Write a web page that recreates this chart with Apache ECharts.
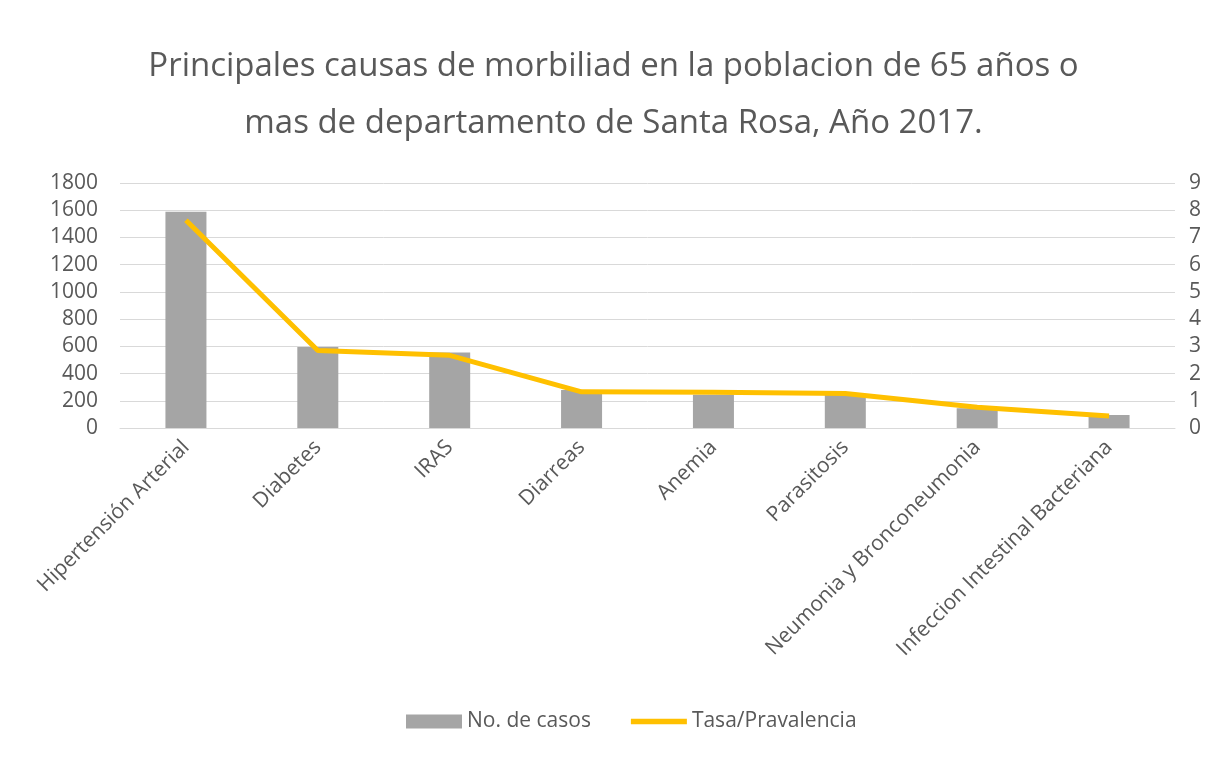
<!DOCTYPE html>
<html>
<head>
<meta charset="utf-8">
<script src="https://cdn.jsdelivr.net/npm/echarts@6/dist/echarts.min.js"></script>
<style>
html, body { margin: 0; padding: 0; background: #fff; }
#chart { width: 1227px; height: 763px; }
</style>
</head>
<body>
<div id="chart"></div>
<script>
// categories and values
var causas = ['Hipertensión Arterial', 'Diabetes', 'IRAS', 'Diarreas', 'Anemia',
              'Parasitosis', 'Neumonia y Bronconeumonia', 'Infeccion Intestinal Bacteriana'];
var casos = [1588, 595, 555, 280, 245, 242, 145, 95];
var tasa = [7.63, 2.85, 2.67, 1.33, 1.31, 1.27, 0.76, 0.44];

var gris = '#595959';
var fuente = 'Open Sans';
var myChart = echarts.init(document.getElementById('chart'));
var option = {
    textStyle: { fontFamily: fuente },
    title: {
        text: 'Principales causas de morbiliad en la poblacion de 65 años o\nmas de departamento de Santa Rosa, Año 2017.',
        left: 'center',
        top: 33,
        textStyle: { fontSize: 33, fontWeight: 'normal', color: gris, lineHeight: 57, fontFamily: fuente }
    },
    legend: {
        bottom: 26,
        left: 401,
        itemGap: 40,
        itemWidth: 56,
        itemHeight: 14,
        textStyle: { fontSize: 21, color: gris, fontFamily: fuente },
        data: [
            { name: 'No. de casos', icon: 'rect' },
            { name: 'Tasa/Pravalencia', icon: 'path://M0,0 L10,0 L10,1 L0,1 Z' }
        ]
    },
    grid: { left: 120, right: 52, top: 183, bottom: 335 },
    xAxis: {
        type: 'category',
        data: causas,
        axisTick: { show: false },
        axisLine: { lineStyle: { color: '#d9d9d9' } },
        axisLabel: { rotate: 45, fontSize: 21, color: gris, margin: 16, interval: 0, fontFamily: fuente }
    },
    yAxis: [
        {
            type: 'value', min: 0, max: 1800, interval: 200,
            axisLabel: { fontSize: 21, color: gris, margin: 22, fontFamily: fuente,
                formatter: function (v) { return String(v); } },
            splitLine: { lineStyle: { color: '#d9d9d9' } }
        },
        {
            type: 'value', min: 0, max: 9, interval: 1, position: 'right',
            axisLabel: { fontSize: 21, color: gris, margin: 14, fontFamily: fuente },
            splitLine: { show: false }
        }
    ],
    series: [
        {
            name: 'No. de casos', type: 'bar', data: casos, barWidth: 41,
            itemStyle: { color: '#a5a5a5' }
        },
        {
            name: 'Tasa/Pravalencia', type: 'line', yAxisIndex: 1, data: tasa,
            symbol: 'none',
            lineStyle: { color: '#ffc000', width: 5 },
            itemStyle: { color: '#ffc000' }
        }
    ]
};
myChart.setOption(option);
</script>
</body>
</html>
